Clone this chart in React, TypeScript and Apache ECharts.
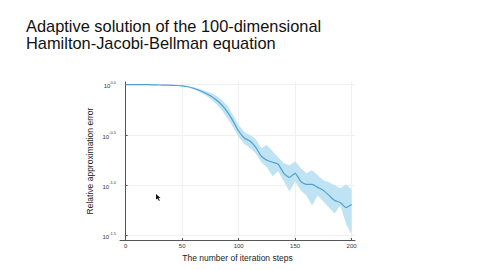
import React, { useEffect, useRef } from "react";
import * as echarts from "echarts";

const steps = [0, 5, 10, 15, 20, 25, 30, 35, 40, 45, 50, 55, 60, 65, 70, 75, 80, 85, 90, 95, 100, 105, 110, 115, 120, 125, 130, 135, 140, 145, 150, 155, 160, 165, 170, 175, 180, 185, 190, 195, 200];
// log10 of relative approximation error
const meanLog = [0, 0, 0, 0, 0, -0.002, -0.003, -0.004, -0.006, -0.008, -0.012, -0.02, -0.035, -0.055, -0.08, -0.11, -0.15, -0.2, -0.27, -0.36, -0.46, -0.53, -0.56, -0.62, -0.71, -0.75, -0.77, -0.79, -0.88, -0.92, -0.88, -0.96, -0.99, -0.99, -1.02, -1.05, -1.1, -1.15, -1.17, -1.22, -1.19];
const upperLog = [0, 0, 0, 0, 0, -0.001, -0.002, -0.003, -0.004, -0.006, -0.009, -0.015, -0.025, -0.04, -0.06, -0.08, -0.11, -0.15, -0.21, -0.3, -0.4, -0.47, -0.5, -0.54, -0.63, -0.6, -0.66, -0.72, -0.78, -0.8, -0.76, -0.83, -0.88, -0.85, -0.9, -0.95, -0.97, -1.0, -1.03, -0.99, -1.04];
const lowerLog = [0, 0, 0, 0, 0, -0.003, -0.004, -0.005, -0.008, -0.01, -0.015, -0.025, -0.045, -0.07, -0.1, -0.14, -0.19, -0.25, -0.33, -0.42, -0.52, -0.59, -0.63, -0.68, -0.77, -0.82, -0.91, -0.86, -0.96, -1.06, -0.96, -1.05, -1.1, -1.2, -1.1, -1.16, -1.22, -1.28, -1.2, -1.38, -1.49];
const xTicks = [0, 50, 100, 150, 200];
const yTicks = [-1.5, -1.0, -0.5, 0.0];

export default function App() {
  const ref = useRef<HTMLDivElement>(null);
  useEffect(() => {
    const chart = echarts.init(ref.current!, null, { renderer: "svg" });
    const bandData = steps.map((s, i) => [s, upperLog[i], lowerLog[i]]);
    const meanData = steps.map((s, i) => [s, meanLog[i]]);
    chart.setOption({
      animation: false,
      backgroundColor: "#ffffff",
      title: {
        text: "Adaptive solution of the 100-dimensional\nHamilton-Jacobi-Bellman equation",
        left: 21,
        top: 12,
        textStyle: {
          fontFamily: "Liberation Sans",
          fontSize: 16.4,
          fontWeight: "normal",
          lineHeight: 17,
          color: "#111",
        },
      },
      grid: { left: 120, right: 125, top: 82, bottom: 30 },
      xAxis: {
        type: "value",
        min: -5,
        max: 203,
        name: "The number of iteration steps",
        nameLocation: "middle",
        nameGap: 12,
        nameTextStyle: { fontFamily: "Liberation Sans", fontSize: 8.5, color: "#222" },
        axisLine: { show: true, onZero: false, lineStyle: { color: "#555", width: 1 } },
        axisTick: { show: true, inside: true, length: 2, customValues: xTicks, lineStyle: { color: "#555" } },
        axisLabel: { customValues: xTicks, fontFamily: "Liberation Sans", fontSize: 6, color: "#333", margin: 3 },
        splitLine: { show: true, lineStyle: { color: "#f0f0f0", width: 1 } },
      },
      yAxis: {
        type: "value",
        min: -1.543,
        max: 0.027,
        name: "Relative approximation error",
        nameLocation: "middle",
        nameGap: 26,
        nameRotate: 90,
        nameTextStyle: { fontFamily: "Liberation Sans", fontSize: 8.5, color: "#222" },
        axisLine: { show: true, lineStyle: { color: "#555", width: 1 } },
        axisTick: { show: true, inside: true, length: 2, customValues: yTicks, lineStyle: { color: "#555" } },
        axisLabel: {
          customValues: yTicks,
          margin: 4,
          formatter: (v: number) => `{b|10}{e|${v.toFixed(1)}}`,
          rich: {
            b: { fontFamily: "Liberation Sans", fontSize: 6, color: "#333", lineHeight: 9, verticalAlign: "bottom" },
            e: { fontFamily: "Liberation Sans", fontSize: 4, color: "#333", lineHeight: 5, verticalAlign: "top" },
          },
        },
        splitLine: { show: true, lineStyle: { color: "#f0f0f0", width: 1 } },
      },
      graphic: [
        {
          type: "polygon",
          shape: { points: [[156, 194], [156, 199.5], [157.5, 198.5], [159, 201], [159.8, 200.5], [158.5, 198], [160.5, 198]] },
          style: { fill: "#111" },
          silent: true,
        },
      ],
      series: [
        {
          type: "custom",
          data: bandData,
          silent: true,
          renderItem: (params: any, api: any) => {
            if (params.dataIndex !== 0) return null;
            const pts: number[][] = [];
            for (let i = 0; i < bandData.length; i++) pts.push(api.coord([bandData[i][0], bandData[i][1]]));
            for (let i = bandData.length - 1; i >= 0; i--) pts.push(api.coord([bandData[i][0], bandData[i][2]]));
            return {
              type: "polygon",
              shape: { points: pts },
              style: { fill: "#bfe3f3", stroke: "none" },
            };
          },
          z: 1,
        },
        {
          type: "line",
          data: meanData,
          symbol: "none",
          smooth: 0.2,
          lineStyle: { color: "#4f9fcf", width: 1.2 },
          silent: true,
          z: 3,
        },
      ],
    });
    return () => chart.dispose();
  }, []);
  return <div ref={ref} style={{ position: "fixed", left: 0, top: 0, width: 480, height: 270 }} />;
}
